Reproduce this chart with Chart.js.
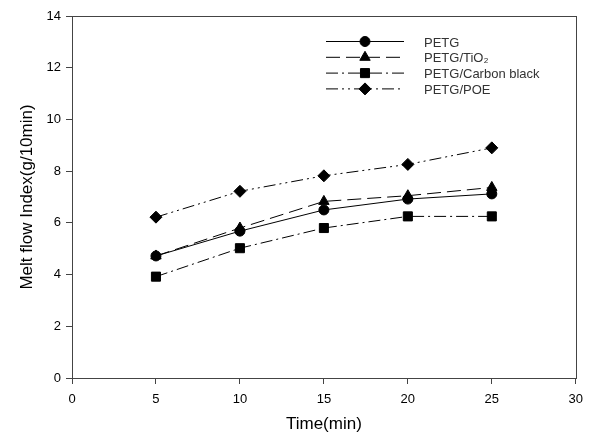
<!DOCTYPE html>
<html>
<head>
<meta charset="utf-8">
<script src="https://cdn.jsdelivr.net/npm/chart.js@4/dist/chart.umd.min.js"></script>
<style>
    html, body { margin: 0; padding: 0; background: #fff; }
    #wrap { width: 591px; height: 439px; }
</style>
</head>
<body>
<div id="wrap"><canvas id="mfi-chart" width="591" height="439"></canvas></div>
<script>
var times = [5, 10, 15, 20, 25];
var petg = [4.72, 5.68, 6.5, 6.92, 7.12];
var petgTio2 = [4.72, 5.8, 6.83, 7.05, 7.37];
var petgCarbon = [3.92, 5.02, 5.8, 6.25, 6.25];
var petgPoe = [6.22, 7.22, 7.82, 8.26, 8.9];
var xTicks = [0, 5, 10, 15, 20, 25, 30];
var yTicks = [0, 2, 4, 6, 8, 10, 12, 14];

var fontFamily = '"Liberation Sans", Arial, sans-serif';

function points(values) {
    return values.map(function (v, i) {
        return { x: times[i], y: v };
    });
}

function series(label, values, dash, style, radius) {
    return {
        label: label,
        data: points(values),
        borderColor: '#000',
        backgroundColor: '#000',
        borderWidth: 1,
        borderDash: dash,
        pointStyle: style,
        pointRadius: radius,
        pointBorderWidth: 1,
        tension: 0,
    };
}

// frame round the plot area
var framePlugin = {
    id: 'frame',
    afterDraw: function (chart) {
        var a = chart.chartArea;
        var ctx = chart.ctx;
        ctx.save();
        ctx.strokeStyle = '#444';
        ctx.lineWidth = 1;
        ctx.strokeRect(Math.round(a.left) + 0.5, Math.round(a.top) + 0.5,
            Math.round(a.right - a.left), Math.round(a.bottom - a.top));
        ctx.restore();
    },
};

// legend with line sample + marker, like the original
var legendPlugin = {
    id: 'lineLegend',
    afterDraw: function (chart) {
        var ctx = chart.ctx;
        var x0 = 326, x1 = 404, tx = 424, y = 41, step = 15.8;
        ctx.save();
        chart.data.datasets.forEach(function (ds) {
            ctx.beginPath();
            ctx.setLineDash(ds.borderDash || []);
            ctx.strokeStyle = '#000';
            ctx.lineWidth = 1;
            ctx.moveTo(x0, y + 0.5);
            ctx.lineTo(x1, y + 0.5);
            ctx.stroke();
            ctx.setLineDash([]);
            ctx.fillStyle = '#000';
            ctx.strokeStyle = '#000';
            Chart.helpers.drawPoint(ctx, {
                pointStyle: ds.pointStyle,
                radius: ds.pointRadius,
                rotation: 0,
                borderWidth: 1,
            }, (x0 + x1) / 2, y + 0.5);
            ctx.fillStyle = '#333';
            ctx.font = '13px ' + fontFamily;
            ctx.textBaseline = 'middle';
            ctx.textAlign = 'left';
            ctx.fillText(ds.label, tx, y + 2);
            y += step;
        });
        ctx.restore();
    },
};

var ctx = document.getElementById('mfi-chart').getContext('2d');
new Chart(ctx, {
    type: 'line',
    data: {
        datasets: [
            series('PETG', petg, [], 'circle', 5),
            series('PETG/TiO\u2082', petgTio2, [14, 6], 'triangle', 6),
            series('PETG/Carbon black', petgCarbon, [12, 4, 2, 4], 'rect', 6.4),
            series('PETG/POE', petgPoe, [12, 4, 2, 4, 2, 4], 'rectRot', 6),
        ],
    },
    options: {
        responsive: false,
        animation: false,
        devicePixelRatio: 1,
        layout: { padding: { top: 16, right: 15, left: 0, bottom: 0 } },
        plugins: {
            legend: { display: false },
            tooltip: { enabled: false },
        },
        scales: {
            x: {
                type: 'linear',
                min: 0,
                max: 30,
                afterBuildTicks: function (axis) {
                    axis.ticks = xTicks.map(function (v) { return { value: v }; });
                },
                afterFit: function (axis) { axis.height = 61; },
                ticks: {
                    color: '#000',
                    font: { size: 13, family: fontFamily },
                    padding: 8,
                    maxRotation: 0,
                },
                grid: {
                    drawOnChartArea: false,
                    tickLength: 6,
                    color: '#444',
                },
                border: { color: '#444' },
                title: {
                    display: true,
                    text: 'Time(min)',
                    color: '#000',
                    font: { size: 17, family: fontFamily },
                    padding: { top: 5 },
                },
            },
            y: {
                min: 0,
                max: 14,
                afterBuildTicks: function (axis) {
                    axis.ticks = yTicks.map(function (v) { return { value: v }; });
                },
                afterFit: function (axis) { axis.width = 72; },
                ticks: {
                    color: '#000',
                    font: { size: 13, family: fontFamily },
                    padding: 5,
                },
                grid: {
                    drawOnChartArea: false,
                    tickLength: 6,
                    color: '#444',
                },
                border: { color: '#444' },
                title: {
                    display: true,
                    text: 'Melt flow Index(g/10min)',
                    color: '#000',
                    font: { size: 17, family: fontFamily },
                    padding: { top: 17, bottom: 0 },
                },
            },
        },
    },
    plugins: [framePlugin, legendPlugin],
});
</script>
</body>
</html>
